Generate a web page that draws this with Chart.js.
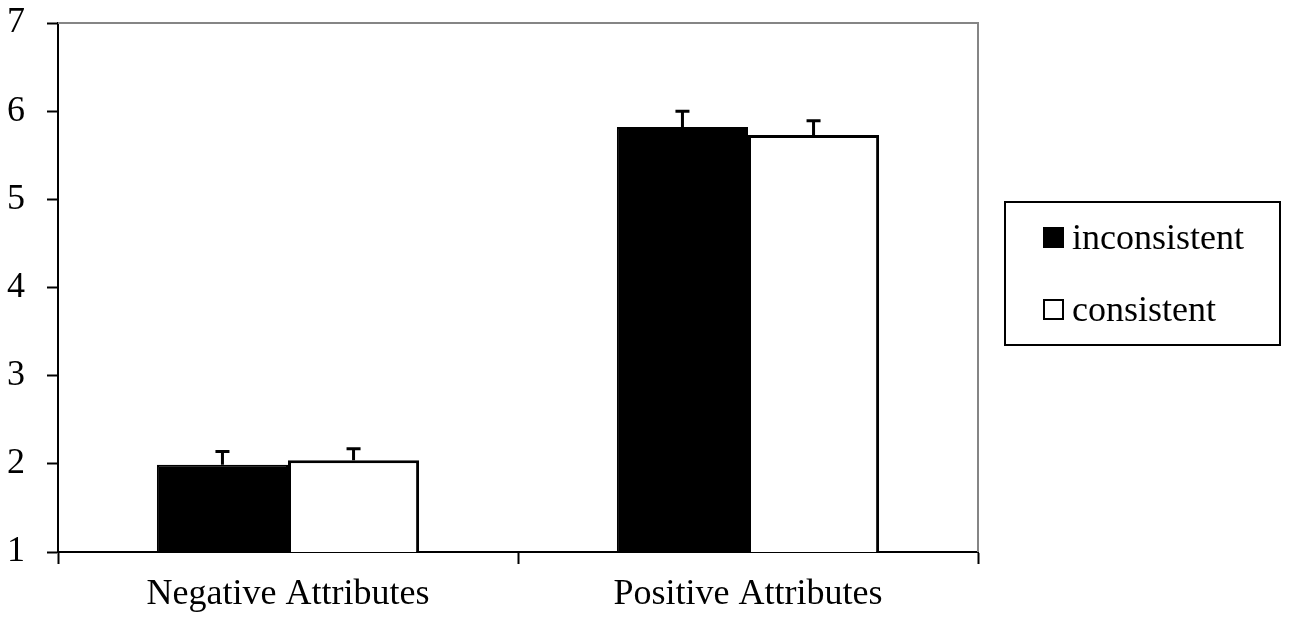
<!DOCTYPE html>
<html>
<head>
<meta charset="utf-8">
<script src="https://cdn.jsdelivr.net/npm/chart.js@4.4.1/dist/chart.umd.min.js"></script>
<style>
  html, body { margin: 0; padding: 0; background: #fff; }
  #wrap { width: 1293px; height: 626px; position: relative; }
</style>
</head>
<body>
<div id="wrap"><canvas id="attributes_chart"></canvas></div>
<script>
// values
const categories = ['Negative Attributes', 'Positive Attributes'];
const inconsistent = [1.99, 5.82];
const inconsistent_err = [0.15, 0.18];
const consistent = [2.04, 5.73];
const consistent_err = [0.13, 0.16];
const y_ticks = [1, 2, 3, 4, 5, 6, 7];

const serif = '"Liberation Serif", "Times New Roman", serif';

// upper error whiskers, drawn from the y scale
const errorBars = {
    id: 'errorBars',
    afterDatasetsDraw(chart){
        const ctx = chart.ctx;
        const y = chart.scales.y;
        ctx.save();
        ctx.strokeStyle = '#000';
        ctx.lineWidth = 3;
        chart.data.datasets.forEach((ds, i) => {
            const meta = chart.getDatasetMeta(i);
            meta.data.forEach((bar, j) => {
                const top = y.getPixelForValue(ds.data[j] + ds.errors[j]);
                ctx.beginPath();
                ctx.moveTo(bar.x, bar.y);
                ctx.lineTo(bar.x, top);
                ctx.moveTo(bar.x - 7, top);
                ctx.lineTo(bar.x + 7, top);
                ctx.stroke();
            });
        });
        ctx.restore();
    }
};

// grey plot-area frame on top and right
const plotFrame = {
    id: 'plotFrame',
    beforeDatasetsDraw(chart){
        const a = chart.chartArea;
        const ctx = chart.ctx;
        ctx.save();
        ctx.strokeStyle = '#858585';
        ctx.lineWidth = 2;
        ctx.beginPath();
        ctx.moveTo(a.left, a.top);
        ctx.lineTo(a.right, a.top);
        ctx.lineTo(a.right, a.bottom);
        ctx.stroke();
        ctx.restore();
    }
};

// boxed legend on the right
const boxLegend = {
    id: 'boxLegend',
    afterDraw(chart){
        const ctx = chart.ctx;
        const a = chart.chartArea;
        const left = a.right + 27, top = 202, w = 275, h = 143;
        ctx.save();
        ctx.strokeStyle = '#000';
        ctx.lineWidth = 2;
        ctx.strokeRect(left, top, w, h);
        ctx.font = '36px ' + serif;
        ctx.textBaseline = 'alphabetic';
        chart.data.datasets.forEach((ds, i) => {
            const base = 249 + i * 72;
            ctx.fillStyle = ds.backgroundColor;
            ctx.fillRect(left + 39, base - 21, 19, 19);
            ctx.lineWidth = 2;
            ctx.strokeRect(left + 39, base - 21, 19, 19);
            ctx.fillStyle = '#000';
            ctx.fillText(ds.label, left + 67, base);
        });
        ctx.restore();
    }
};

const ctx = document.getElementById('attributes_chart').getContext('2d');
const attributes_chart = new Chart(ctx, {
    type: 'bar',
    data: {
        labels: categories,
        datasets: [{
            label: 'inconsistent',
            data: inconsistent,
            errors: inconsistent_err,
            backgroundColor: '#000',
            borderColor: '#000',
            borderWidth: 2
        }, {
            label: 'consistent',
            data: consistent,
            errors: consistent_err,
            backgroundColor: '#fff',
            borderColor: '#000',
            borderWidth: 3
        }]
    },
    options: {
        responsive: true,
        maintainAspectRatio: false,
        animation: false,
        layout: { padding: { top: 23, right: 315, left: 0, bottom: 0 } },
        datasets: {
            bar: { categoryPercentage: 0.57, barPercentage: 1.0 }
        },
        plugins: {
            legend: { display: false },
            tooltip: { enabled: false }
        },
        scales: {
            x: {
                afterFit: s => { s.height = 74; s.paddingLeft = 0; s.paddingRight = 0; },
                border: { display: true, color: '#000', width: 2 },
                grid: {
                    offset: true,
                    drawOnChartArea: false,
                    drawTicks: true,
                    tickLength: 12,
                    tickColor: '#000',
                    tickWidth: 2
                },
                ticks: {
                    color: '#000',
                    padding: 9,
                    font: { family: serif, size: 36 }
                }
            },
            y: {
                min: 1,
                max: 7,
                afterFit: s => { s.width = 58; s.paddingTop = 0; s.paddingBottom = 0; },
                afterBuildTicks: s => { s.ticks = y_ticks.map(v => ({ value: v })); },
                border: { display: true, color: '#000', width: 2 },
                grid: {
                    drawOnChartArea: false,
                    drawTicks: true,
                    tickLength: 11,
                    tickColor: '#000',
                    tickWidth: 2
                },
                ticks: {
                    color: '#000',
                    padding: 22,
                    font: { family: serif, size: 36 }
                }
            }
        }
    },
    plugins: [plotFrame, errorBars, boxLegend]
});
</script>
</body>
</html>
